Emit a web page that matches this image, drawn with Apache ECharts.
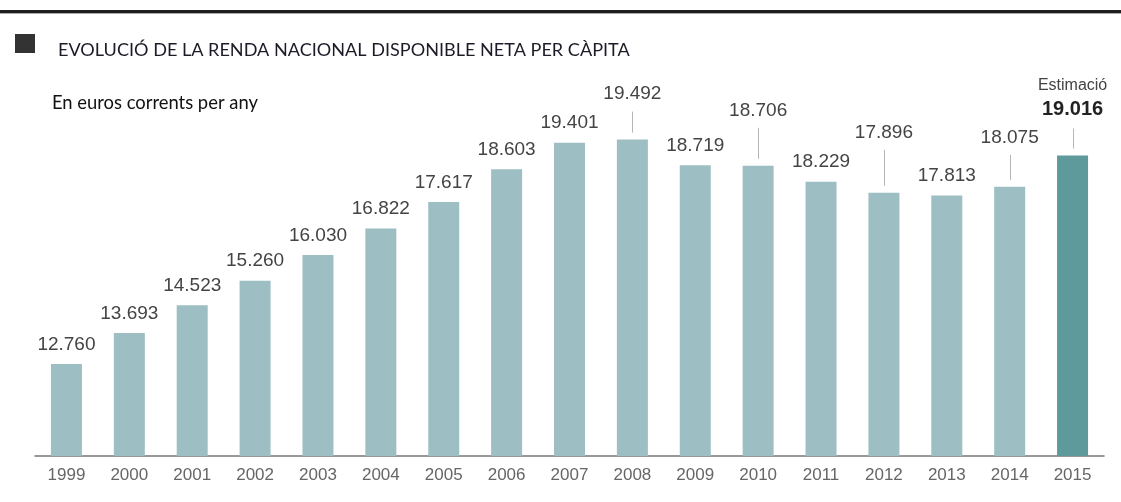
<!DOCTYPE html>
<html><head><meta charset="utf-8">
<script src="https://cdn.jsdelivr.net/npm/echarts@6/dist/echarts.min.js"></script>
<style>html,body{margin:0;padding:0;background:#fff}#c{width:1121px;height:502px}</style>
</head><body><div id="c"></div>
<script>
// DATA
var years = ['1999','2000','2001','2002','2003','2004','2005','2006','2007','2008','2009','2010','2011','2012','2013','2014','2015'];
var values = [12760,13693,14523,15260,16030,16822,17617,18603,19401,19492,18719,18706,18229,17896,17813,18075,19016];
var estimateYear = '2015';
var estimateText = 'Estimació';
var titleText = 'EVOLUCIÓ DE LA RENDA NACIONAL DISPONIBLE NETA PER CÀPITA';
var subtitleText = 'En euros corrents per any';

// STYLE (label lift above bar, px) - leader lines drawn where lift is large
var labelLift = {'2008':36,'2010':46,'2012':51,'2014':40,'2015':35};
var baseLift = 10;

function fmt(v){ return String(v).replace(/\B(?=(\d{3})+(?!\d))/g,'.'); }

// fit a text to a target pixel width (Calibri-like look using Lato)
var headFamily = 'Lato, "Open Sans", sans-serif';
function fitSize(text, targetW){
  var ctx = document.createElement('canvas').getContext('2d');
  ctx.font = '100px ' + headFamily;
  return 100 * targetW / ctx.measureText(text).width;
}
var titleSize = fitSize(titleText, 572);
var subSize = fitSize(subtitleText, 206);

var barColor = '#9dbfc3', estColor = '#5e9a9c';
var numFont = '"Liberation Sans", Arial, sans-serif';

var barData = values.map(function(v,i){
  var y = years[i];
  var d = labelLift[y] !== undefined ? labelLift[y] : baseLift;
  var item = {value:v, label:{distance:d}};
  if (y === estimateYear) {
    item.itemStyle = {color: estColor};
    item.label.formatter = function(p){ return '{e|'+estimateText+'}\n{b|'+fmt(p.value)+'}'; };
    item.label.rich = {
      e:{fontSize:16, color:'#444', fontFamily:numFont, lineHeight:26},
      b:{fontSize:20, fontWeight:'bold', color:'#222', fontFamily:numFont, lineHeight:22}
    };
  }
  return item;
});

var leaderData = [];
values.forEach(function(v,i){ if (labelLift[years[i]] !== undefined) leaderData.push([i, v]); });

var chart = echarts.init(document.getElementById('c'), null, {renderer:'canvas'});
chart.setOption({
  animation:false,
  backgroundColor:'#fff',
  grid:{left:35, right:17, top:56, bottom:46},
  xAxis:{type:'category', data:years, boundaryGap:true,
    axisLine:{lineStyle:{color:'#777', width:1.5}},
    axisTick:{show:false},
    axisLabel:{color:'#666', fontSize:17, fontFamily:numFont, margin:11}},
  yAxis:{type:'value', min:10000, max:22000, show:false, splitLine:{show:false}},
  graphic:[
    {type:'rect', left:0, top:10, shape:{width:1121, height:3}, style:{fill:'#1e1e1e'}},
    {type:'rect', left:0, top:13, shape:{width:1121, height:1}, style:{fill:'#aaa'}},
    {type:'rect', left:15, top:34, shape:{width:20, height:19}, style:{fill:'#333'}},
    {type:'text', x:58, y:50, style:{text:titleText, fill:'#1c1c28', font:titleSize.toFixed(2)+'px '+headFamily, verticalAlign:'middle'}},
    {type:'text', x:52, y:103, style:{text:subtitleText, fill:'#111', font:subSize.toFixed(2)+'px '+headFamily, verticalAlign:'middle'}}
  ],
  series:[
    {type:'bar', data:barData, barWidth:31, itemStyle:{color:barColor},
      label:{show:true, position:'top', color:'#444', fontSize:19, fontFamily:numFont,
        formatter:function(p){return fmt(p.value);}}},
    {type:'custom', data:leaderData, z:5, silent:true,
      renderItem:function(params, api){
        var i = api.value(0);
        var pt = api.coord([i, api.value(1)]);
        var lift = labelLift[years[i]];
        var x = Math.round(pt[0]) + 0.5;
        return {type:'line', shape:{x1:x, y1:pt[1]-lift+8, x2:x, y2:pt[1]-7},
          style:{stroke:'#b5b5b5', lineWidth:1}};
      }}
  ]
});
</script></body></html>
